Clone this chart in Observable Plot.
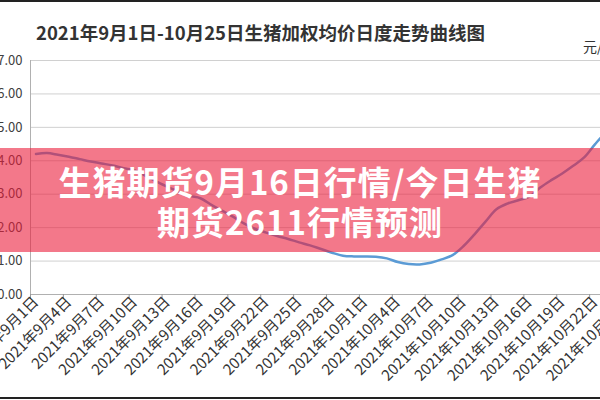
<!DOCTYPE html>
<html><head><meta charset="utf-8">
<script src="https://cdn.jsdelivr.net/npm/d3@7"></script>
<script src="https://cdn.jsdelivr.net/npm/@observablehq/plot@0.6"></script>
<style>
html,body{margin:0;padding:0;background:#fff;}
#wrap{position:relative;width:600px;height:400px;overflow:hidden;background:#fff;font-family:"Noto Sans CJK SC","Noto Sans",sans-serif;}
#title{position:absolute;left:0;width:521px;top:19px;text-align:center;font-size:18.5px;font-weight:700;color:#333;white-space:nowrap;}
#unit{position:absolute;left:583px;top:36px;font-size:14px;color:#333;white-space:nowrap;}
#chart{position:absolute;left:-20px;top:40px;width:663px;}
#chart svg{max-width:none !important;}
#banner{position:absolute;left:0;top:148px;width:600px;height:104px;background:rgba(235,30,60,0.6);}
#banner .txt{position:absolute;left:0;top:13px;width:600px;text-align:center;color:#fff;font-weight:700;font-size:33px;line-height:40px;letter-spacing:1px;white-space:nowrap;}
.edge{position:absolute;left:0;width:600px;height:2px;background:#222;}
</style></head>
<body>
<div id="wrap">
  <div id="title"></div>
  <div id="unit"></div>
  <div id="chart"></div>
  <div id="banner"><div class="txt" id="bannerText"></div></div>
  <div class="edge" style="top:0"></div>
  <div class="edge" style="top:397px"></div>
</div>
<script>
const titleText = "2021年9月1日-10月25日生猪加权均价日度走势曲线图";
const unitText = "元/公斤";
const bannerLines = ["生猪期货9月16日行情/今日生猪", "期货2611行情预测"];

const dates = [
 "2021年9月1日","2021年9月2日","2021年9月3日","2021年9月4日","2021年9月5日","2021年9月6日","2021年9月7日",
 "2021年9月8日","2021年9月9日","2021年9月10日","2021年9月11日","2021年9月12日","2021年9月13日","2021年9月14日",
 "2021年9月15日","2021年9月16日","2021年9月17日","2021年9月18日","2021年9月19日","2021年9月20日","2021年9月21日",
 "2021年9月22日","2021年9月23日","2021年9月24日","2021年9月25日","2021年9月26日","2021年9月27日","2021年9月28日",
 "2021年9月29日","2021年9月30日","2021年10月1日","2021年10月2日","2021年10月3日","2021年10月4日","2021年10月5日",
 "2021年10月6日","2021年10月7日","2021年10月8日","2021年10月9日","2021年10月10日","2021年10月11日","2021年10月12日",
 "2021年10月13日","2021年10月14日","2021年10月15日","2021年10月16日","2021年10月17日","2021年10月18日","2021年10月19日",
 "2021年10月20日","2021年10月21日","2021年10月22日","2021年10月23日","2021年10月24日","2021年10月25日"
];
const prices = [
 14.20,14.23,14.18,14.12,14.05,13.98,13.92,
 13.86,13.78,13.71,13.55,13.38,13.22,13.08,
 12.95,12.88,12.68,12.50,12.32,12.12,11.96,
 11.85,11.75,11.66,11.56,11.47,11.36,11.25,
 11.16,11.14,11.14,11.13,11.08,10.97,10.91,
 10.90,10.95,11.05,11.18,11.45,11.80,12.18,
 12.55,12.72,12.82,12.93,13.20,13.42,13.62,
 13.85,14.10,14.50,14.85,15.10,15.30
];
const yTicks = [10,11,12,13,14,15,16,17];

document.getElementById("title").textContent = titleText;
document.getElementById("unit").textContent = unitText;
document.getElementById("bannerText").innerHTML = bannerLines.join("<br>");

const data = dates.map((d, i) => ({i, date: d, v: prices[i]}));
const labelIdx = dates.map((d, i) => i).filter(i => i % 3 === 0);
const tickBounds = labelIdx.map(i => i - 0.5);

const chart = Plot.plot({
  width: 663, height: 364,
  marginLeft: 50, marginRight: 10, marginTop: 20, marginBottom: 110,
  style: {fontFamily: '"Noto Sans CJK SC","Noto Sans",sans-serif', fontSize: "13px", color: "#404040", background: "transparent", overflow: "visible", maxWidth: "none"},
  x: {domain: [-0.5, dates.length - 0.5]},
  y: {domain: [10, 17]},
  marks: [
    Plot.gridY(yTicks.slice(1), {stroke: "#d0d0d0", strokeOpacity: 1}),
    Plot.ruleY([10], {stroke: "#b0b0b0"}),
    Plot.ruleX([-0.5], {stroke: "#b0b0b0"}),
    Plot.axisY({ticks: yTicks, tickFormat: d => d.toFixed(2), tickSize: 0, tickPadding: 8, label: null, fontSize: 13}),
    Plot.axisX({ticks: tickBounds, tickFormat: () => "", tickSize: 5, stroke: "#999", label: null}),
    Plot.axisX({ticks: labelIdx, tickFormat: i => dates[i], tickSize: 0, tickRotate: -45, tickPadding: 5, label: null, fontSize: 15, fill: "#333"}),
    Plot.line(data, {x: "i", y: "v", stroke: "#5b9bd5", strokeWidth: 2.5, curve: "catmull-rom"})
  ]
});
document.getElementById("chart").appendChild(chart);
</script>
</body></html>
